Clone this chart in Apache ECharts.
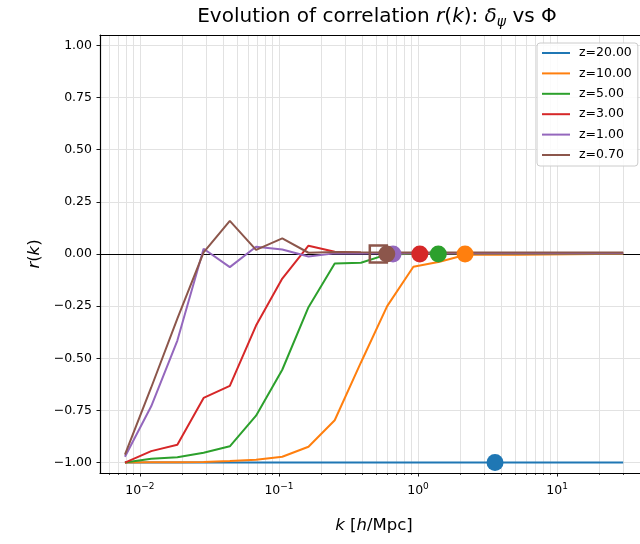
<!DOCTYPE html>
<html><head><meta charset="utf-8">
<script src="https://cdn.jsdelivr.net/npm/echarts@6/dist/echarts.min.js"></script>
<style>html,body{margin:0;padding:0;background:#fff}#c{width:640px;height:544px}</style>
</head><body><div id="c"></div>
<script>
const kValues = [0.0078, 0.01205, 0.01858, 0.0287, 0.0443, 0.0684, 0.1056, 0.163, 0.2517, 0.3886, 0.600, 0.926, 1.430, 2.207, 3.407, 5.26, 8.12, 12.54, 19.35, 29.9];
const rZ20 = [-1, -1, -1, -1, -1, -1, -1, -1, -1, -1, -1, -1, -1, -1, -1, -1, -1, -1, -1, -1];
const rZ10 = [-1.0, -0.999, -0.998, -0.997, -0.993, -0.986, -0.972, -0.924, -0.797, -0.52, -0.25, -0.061, -0.037, -0.004, -0.004, -0.003, -0.002, -0.001, 0.0, 0.0];
const rZ5 = [-1.0, -0.982, -0.975, -0.953, -0.922, -0.775, -0.555, -0.255, -0.046, -0.042, -0.002, 0.001, 0.002, 0.002, 0.002, 0.002, 0.002, 0.002, 0.002, 0.002];
const rZ3 = [-1.0, -0.945, -0.915, -0.69, -0.632, -0.343, -0.118, 0.040, 0.011, 0.006, 0.004, 0.004, 0.004, 0.004, 0.004, 0.004, 0.004, 0.004, 0.004, 0.004];
const rZ1 = [-0.972, -0.73, -0.415, 0.025, -0.063, 0.035, 0.022, -0.012, 0.003, 0.002, 0.003, 0.003, 0.003, 0.003, 0.003, 0.003, 0.003, 0.003, 0.003, 0.003];
const rZ07 = [-0.962, -0.64, -0.31, 0.008, 0.159, 0.02, 0.075, 0.006, 0.01, 0.008, 0.007, 0.007, 0.007, 0.007, 0.007, 0.007, 0.007, 0.007, 0.007, 0.007];
const seriesNames = ['z=20.00', 'z=10.00', 'z=5.00', 'z=3.00', 'z=1.00', 'z=0.70'];
const markerK = [3.58, 2.18, 1.40, 1.03, 0.661, 0.596];
const markerR = [-1, 0, 0, 0, 0, 0];
const squareK = [0.518];
const squareR = [0];
const xMajorTicks = [0.01, 0.1, 1, 10];
const xMinorTicks = [0.006, 0.007, 0.008, 0.009, 0.02, 0.03, 0.04, 0.05, 0.06, 0.07, 0.08, 0.09, 0.2, 0.3, 0.4, 0.5, 0.6, 0.7, 0.8, 0.9, 2, 3, 4, 5, 6, 7, 8, 9, 20, 30, 40];
const yTicks = [-1, -0.75, -0.5, -0.25, 0, 0.25, 0.5, 0.75, 1];

const allR = [rZ20, rZ10, rZ5, rZ3, rZ1, rZ07];
const colors = ['#1f77b4', '#ff7f0e', '#2ca02c', '#d62728', '#9467bd', '#8c564b'];
const FF = 'DejaVu Sans';
const XMIN = 0.00516, XMAX = 45.1;
const GRIDC = '#e2e2e2';

const chart = echarts.init(document.getElementById('c'), null, {renderer: 'canvas'});
const series = [];
allR.forEach((arr, s) => {
  const ser = {
    name: seriesNames[s], type: 'line', xAxisIndex: 0, yAxisIndex: 0,
    data: kValues.map((k, i) => [k, arr[i]]),
    showSymbol: false, symbol: 'none',
    lineStyle: {color: colors[s], width: 2}, itemStyle: {color: colors[s]},
    z: 3
  };
  if (s === 0) {
    ser.markLine = {silent: true, symbol: 'none', label: {show: false},
      lineStyle: {color: '#000', width: 1, type: 'solid'},
      data: [{yAxis: 0}], z: 2, animation: false};
  }
  series.push(ser);
});
series.push({
  name: 'sq', type: 'scatter', data: squareK.map((k, i) => [k, squareR[i]]),
  symbol: 'rect', symbolSize: 17,
  itemStyle: {color: 'rgba(0,0,0,0)', borderColor: colors[5], borderWidth: 2.5, opacity: 1}, z: 4
});
markerK.forEach((k, i) => {
  series.push({
    name: 'm' + i, type: 'scatter', data: [[k, markerR[i]]],
    symbol: 'circle', symbolSize: 17, itemStyle: {color: colors[i], opacity: 1}, z: 5
  });
});

const supLabel = v => {
  const e = Math.round(Math.log10(v));
  return '{b|10}{s|' + (e < 0 ? '\u2212' + (-e) : e) + '}';
};

chart.setOption({
  animation: false,
  backgroundColor: '#fff',
  title: {
    left: 372, top: 0, textAlign: 'center',
    text: 'Evolution of correlation {i|r}({i|k}): {i|\u03b4}{sub|\u03c8} vs \u03a6',
    textStyle: {fontFamily: FF, fontSize: 20, fontWeight: 'normal', color: '#000',
      rich: {
        i: {fontFamily: FF, fontSize: 20, fontStyle: 'italic', color: '#000'},
        sub: {fontFamily: FF, fontSize: 14, fontStyle: 'italic', color: '#000', padding: [10, 0, 0, 0]}
      }}
  },
  legend: {
    data: seriesNames, orient: 'vertical', left: 537, top: 43,
    icon: 'rect', itemWidth: 28, itemHeight: 2, itemGap: 6.4,
    padding: [3, 6, 4, 5],
    backgroundColor: 'rgba(255,255,255,0.85)', borderColor: '#cccccc', borderWidth: 1, borderRadius: 3,
    textStyle: {fontFamily: FF, fontSize: 12.5, color: '#000', lineHeight: 14, padding: [0, 0, 0, 4]}
  },
  grid: {left: 100, top: 35, width: 548, height: 438, outerBoundsMode: 'none', containLabel: false, show: false},
  xAxis: [{
    type: 'log', logBase: 10, min: XMIN, max: XMAX, position: 'bottom',
    name: '{i|k} [{i|h}/Mpc]', nameLocation: 'middle', nameGap: 44,
    nameTextStyle: {fontFamily: FF, fontSize: 16.5, color: '#000',
      rich: {i: {fontFamily: FF, fontSize: 16.5, fontStyle: 'italic', color: '#000'}}},
    axisLine: {show: true, onZero: false, lineStyle: {color: '#000', width: 1.2}},
    axisTick: {show: true, length: 3.5, lineStyle: {color: '#000', width: 0.9}, customValues: xMajorTicks},
    axisLabel: {customValues: xMajorTicks, margin: 9, formatter: supLabel,
      rich: {
        b: {fontFamily: FF, fontSize: 12.5, color: '#000'},
        s: {fontFamily: FF, fontSize: 9, color: '#000', padding: [0, 0, 8, 0]}
      }},
    splitLine: {show: true, lineStyle: {color: GRIDC, width: 1}},
    minorTick: {show: false}
  }, {
    type: 'log', logBase: 10, min: XMIN, max: XMAX, position: 'bottom',
    axisLine: {show: false, onZero: false},
    axisTick: {show: true, length: 2, lineStyle: {color: '#000', width: 0.7}, customValues: xMinorTicks},
    axisLabel: {show: false, customValues: xMinorTicks},
    splitLine: {show: true, lineStyle: {color: GRIDC, width: 1}}
  }, {
    type: 'log', logBase: 10, min: XMIN, max: XMAX, position: 'top',
    axisLine: {show: true, onZero: false, lineStyle: {color: '#000', width: 1.2}},
    axisTick: {show: false}, axisLabel: {show: false}, splitLine: {show: false}
  }],
  yAxis: [{
    type: 'value', min: -1.05, max: 1.05, position: 'left',
    name: '{i|r}({i|k})', nameLocation: 'middle', nameGap: 55, nameRotate: 90,
    nameTextStyle: {fontFamily: FF, fontSize: 16.5, color: '#000',
      rich: {i: {fontFamily: FF, fontSize: 16.5, fontStyle: 'italic', color: '#000'}}},
    axisLine: {show: true, onZero: false, lineStyle: {color: '#000', width: 1.2}},
    axisTick: {show: true, length: 3.5, lineStyle: {color: '#000', width: 0.9}, customValues: yTicks},
    axisLabel: {customValues: yTicks, margin: 8, fontFamily: FF, fontSize: 12.5, color: '#000',
      formatter: v => (v < 0 ? '\u2212' : '') + Math.abs(v).toFixed(2)},
    splitLine: {show: true, lineStyle: {color: GRIDC, width: 1}}
  }],
  series: series
});
</script></body></html>
